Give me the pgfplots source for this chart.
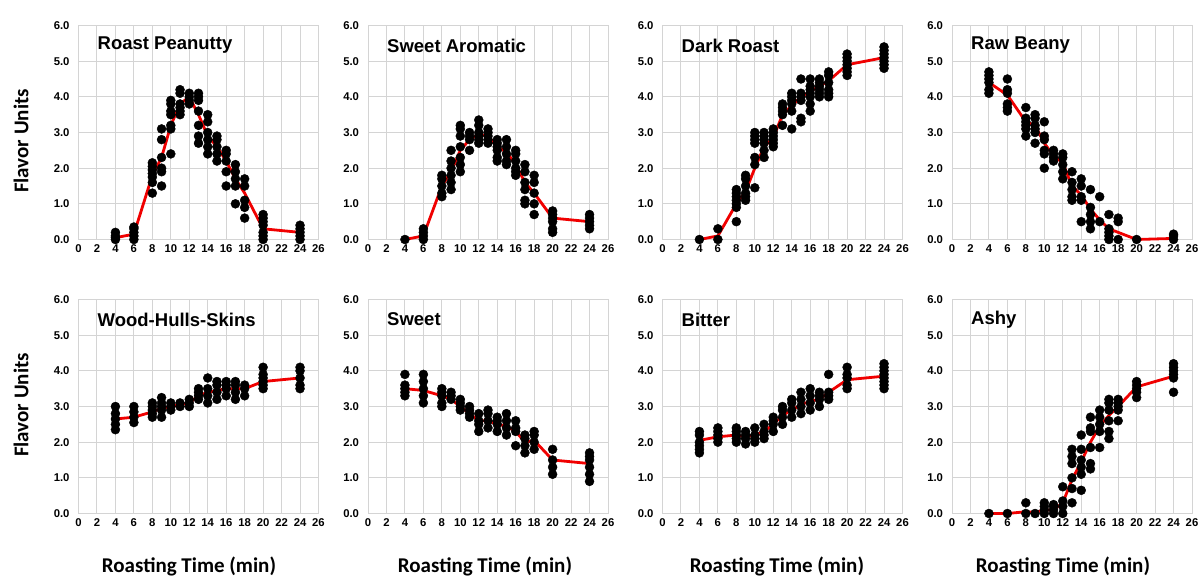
\documentclass[border=0pt]{standalone}
\usepackage{fontspec}
\setmainfont{Liberation Sans}
\newfontfamily\lblfont{Carlito}
\usepackage{pgfplots}
\pgfplotsset{compat=1.18}
\definecolor{gridgray}{HTML}{D4D4D4}
\definecolor{meanred}{HTML}{F00000}
\pgfplotsset{
  panel/.style={
    scale only axis, width=240pt, height=214pt,
    anchor=south west,
    xmin=0, xmax=26, ymin=0, ymax=6,
    xtick={0,2,...,26}, ytick={0,1,...,6},
    grid=major,
    major grid style={draw=gridgray, line width=1pt},
    axis line style={draw=gridgray, line width=1pt},
    major tick length=0pt,
    clip=false,
    /pgf/number format/assume math mode=true,
    tick label style={font=\fontsize{11.3}{13}\selectfont\bfseries},
    xticklabel style={yshift=-1.5pt},
    yticklabel style={xshift=-5.5pt,
      /pgf/number format/fixed,
      /pgf/number format/fixed zerofill,
      /pgf/number format/precision=1},
  },
  dots/.style={only marks, mark=*, mark size=4.5pt, color=black, mark options={fill=black, draw=black}},
  meanline/.style={color=meanred, line width=2.8pt, mark=none},
}
\newcommand{\paneltitle}[1]{\node[anchor=west, xshift=19pt, yshift=-20pt, font=\fontsize{18.5}{20}\selectfont\bfseries, inner sep=0pt] at (rel axis cs:0,1) {#1};}
\begin{document}
\begin{tikzpicture}
\useasboundingbox (0,0) rectangle (1200pt,576pt);

% ---------- Row 1 ----------
\begin{axis}[panel, at={(78.5pt,336.5pt)}]
\addplot[meanline] coordinates {(4,0.05)(6,0.15)(8,1.8)(9,2.3)(10,3.2)(11,3.8)(12,4.0)(13,3.5)(14,2.9)(15,2.6)(16,2.2)(17,1.7)(18,1.3)(20,0.3)(24,0.2)};
\addplot[dots] coordinates {
(4,0.0)(4,0.05)(4,0.1)(4,0.2)
(6,0.0)(6,0.1)(6,0.2)(6,0.3)(6,0.35)
(8,1.3)(8,1.6)(8,1.75)(8,1.85)(8,1.95)(8,2.05)(8,2.15)
(9,1.5)(9,1.9)(9,2.0)(9,2.3)(9,2.8)(9,3.1)
(10,2.4)(10,3.1)(10,3.2)(10,3.5)(10,3.6)(10,3.8)(10,3.9)
(11,3.5)(11,3.6)(11,3.7)(11,3.8)(11,4.1)(11,4.2)
(12,3.8)(12,3.9)(12,4.0)(12,4.1)
(13,2.7)(13,2.9)(13,3.2)(13,3.6)(13,3.9)(13,4.0)(13,4.1)
(14,2.4)(14,2.6)(14,2.8)(14,3.0)(14,3.3)(14,3.5)
(15,2.2)(15,2.4)(15,2.6)(15,2.8)(15,2.9)
(16,1.5)(16,1.9)(16,2.2)(16,2.4)(16,2.5)
(17,1.0)(17,1.5)(17,1.7)(17,1.9)(17,2.1)
(18,0.6)(18,0.9)(18,1.1)(18,1.5)(18,1.7)
(20,0.0)(20,0.1)(20,0.2)(20,0.4)(20,0.5)(20,0.6)(20,0.7)
(24,0.0)(24,0.1)(24,0.2)(24,0.3)(24,0.4)};
\paneltitle{Roast Peanutty}
\end{axis}

\begin{axis}[panel, at={(368pt,336.5pt)}]
\addplot[meanline] coordinates {(4,0)(6,0.1)(8,1.5)(9,1.9)(10,2.5)(11,2.8)(12,2.95)(13,2.9)(14,2.6)(15,2.45)(16,2.1)(17,1.6)(18,1.3)(20,0.6)(24,0.5)};
\addplot[dots] coordinates {
(4,0.0)
(6,0.0)(6,0.1)(6,0.2)(6,0.3)
(8,1.2)(8,1.3)(8,1.5)(8,1.7)(8,1.8)
(9,1.4)(9,1.6)(9,1.8)(9,2.0)(9,2.2)(9,2.5)
(10,1.9)(10,2.1)(10,2.3)(10,2.6)(10,2.9)(10,3.1)(10,3.2)
(11,2.5)(11,2.8)(11,2.9)(11,3.0)
(12,2.7)(12,2.8)(12,2.9)(12,3.0)(12,3.2)(12,3.35)
(13,2.7)(13,2.8)(13,2.9)(13,3.0)(13,3.1)
(14,2.2)(14,2.3)(14,2.5)(14,2.6)(14,2.7)(14,2.8)
(15,2.1)(15,2.2)(15,2.4)(15,2.6)(15,2.8)
(16,1.8)(16,1.9)(16,2.0)(16,2.2)(16,2.4)(16,2.5)
(17,1.0)(17,1.1)(17,1.4)(17,1.6)(17,1.9)(17,2.1)
(18,0.7)(18,1.0)(18,1.3)(18,1.6)(18,1.8)
(20,0.2)(20,0.3)(20,0.5)(20,0.6)(20,0.7)(20,0.8)
(24,0.3)(24,0.4)(24,0.5)(24,0.6)(24,0.7)};
\paneltitle{Sweet Aromatic}
\end{axis}

\begin{axis}[panel, at={(662.5pt,336.5pt)}]
\addplot[meanline] coordinates {(4,0)(6,0.1)(8,1.0)(9,1.35)(10,2.0)(11,2.6)(12,2.85)(13,3.5)(14,3.75)(15,4.0)(16,4.15)(17,4.3)(18,4.45)(20,4.9)(24,5.1)};
\addplot[dots] coordinates {
(4,0.0)
(6,0.0)(6,0.3)
(8,0.5)(8,0.9)(8,1.0)(8,1.1)(8,1.2)(8,1.3)(8,1.4)
(9,1.1)(9,1.2)(9,1.3)(9,1.5)(9,1.7)(9,1.8)
(10,1.45)(10,2.1)(10,2.3)(10,2.7)(10,2.8)(10,2.9)(10,3.0)
(11,2.3)(11,2.5)(11,2.7)(11,2.8)(11,2.9)(11,3.0)
(12,2.6)(12,2.7)(12,2.8)(12,2.9)(12,3.0)(12,3.1)
(13,3.2)(13,3.5)(13,3.6)(13,3.7)(13,3.8)
(14,3.1)(14,3.6)(14,3.8)(14,3.9)(14,4.0)(14,4.1)
(15,3.3)(15,3.4)(15,3.9)(15,4.0)(15,4.1)(15,4.5)
(16,3.6)(16,3.8)(16,4.0)(16,4.1)(16,4.2)(16,4.3)(16,4.5)
(17,4.0)(17,4.1)(17,4.2)(17,4.3)(17,4.4)(17,4.5)
(18,4.0)(18,4.1)(18,4.2)(18,4.4)(18,4.6)(18,4.7)
(20,4.6)(20,4.7)(20,4.8)(20,4.9)(20,5.0)(20,5.1)(20,5.2)
(24,4.8)(24,4.9)(24,5.0)(24,5.1)(24,5.2)(24,5.3)(24,5.4)};
\paneltitle{Dark Roast}
\end{axis}

\begin{axis}[panel, at={(952pt,336.5pt)}]
\addplot[meanline] coordinates {(4,4.4)(6,4.05)(8,3.3)(9,3.2)(10,2.7)(11,2.35)(12,2.15)(13,1.5)(14,1.25)(15,0.85)(16,0.55)(17,0.3)(18,0.2)(20,0.0)(24,0.03)};
\addplot[dots] coordinates {
(4,4.1)(4,4.2)(4,4.4)(4,4.5)(4,4.6)(4,4.7)
(6,3.6)(6,3.7)(6,3.8)(6,4.1)(6,4.2)(6,4.5)
(8,2.9)(8,3.1)(8,3.2)(8,3.3)(8,3.4)(8,3.7)
(9,2.7)(9,3.0)(9,3.1)(9,3.2)(9,3.4)(9,3.5)
(10,2.0)(10,2.4)(10,2.5)(10,2.8)(10,2.9)(10,3.3)
(11,2.2)(11,2.3)(11,2.4)(11,2.5)
(12,1.7)(12,1.9)(12,2.1)(12,2.3)(12,2.4)
(13,1.1)(13,1.2)(13,1.4)(13,1.6)(13,1.9)
(14,0.5)(14,1.1)(14,1.2)(14,1.5)(14,1.7)
(15,0.3)(15,0.5)(15,0.7)(15,0.9)(15,1.4)
(16,0.5)(16,1.2)
(17,0.0)(17,0.1)(17,0.2)(17,0.3)(17,0.7)
(18,0.0)(18,0.5)(18,0.6)
(20,0.0)
(24,0.0)(24,0.1)(24,0.15)};
\paneltitle{Raw Beany}
\end{axis}

% ---------- Row 2 ----------
\begin{axis}[panel, at={(78.5pt,62.5pt)}]
\addplot[meanline] coordinates {(4,2.65)(6,2.7)(8,2.85)(9,2.95)(10,3.0)(11,3.05)(12,3.1)(13,3.3)(14,3.4)(15,3.45)(16,3.5)(17,3.5)(18,3.5)(20,3.7)(24,3.8)};
\addplot[dots] coordinates {
(4,2.35)(4,2.5)(4,2.65)(4,2.8)(4,3.0)
(6,2.55)(6,2.7)(6,2.85)(6,3.0)
(8,2.7)(8,2.8)(8,2.9)(8,3.0)(8,3.1)
(9,2.7)(9,2.9)(9,3.0)(9,3.1)(9,3.25)
(10,2.9)(10,3.0)(10,3.1)
(11,3.0)(11,3.1)
(12,3.0)(12,3.1)(12,3.2)
(13,3.2)(13,3.3)(13,3.4)(13,3.5)
(14,3.1)(14,3.3)(14,3.5)(14,3.8)
(15,3.2)(15,3.4)(15,3.6)(15,3.7)
(16,3.3)(16,3.5)(16,3.6)(16,3.7)
(17,3.2)(17,3.4)(17,3.6)(17,3.7)
(18,3.3)(18,3.5)(18,3.6)
(20,3.5)(20,3.6)(20,3.7)(20,3.8)(20,3.9)(20,4.1)
(24,3.5)(24,3.6)(24,3.8)(24,4.0)(24,4.1)};
\paneltitle{Wood-Hulls-Skins}
\end{axis}

\begin{axis}[panel, at={(368pt,62.5pt)}]
\addplot[meanline] coordinates {(4,3.5)(6,3.45)(8,3.3)(9,3.2)(10,3.0)(11,2.8)(12,2.6)(13,2.6)(14,2.5)(15,2.45)(16,2.3)(17,2.0)(18,2.05)(20,1.5)(24,1.4)};
\addplot[dots] coordinates {
(4,3.3)(4,3.4)(4,3.5)(4,3.6)(4,3.9)
(6,3.1)(6,3.3)(6,3.5)(6,3.7)(6,3.9)
(8,3.0)(8,3.1)(8,3.3)(8,3.4)(8,3.5)
(9,3.2)(9,3.3)(9,3.4)
(10,2.9)(10,3.0)(10,3.1)(10,3.2)
(11,2.7)(11,2.8)(11,2.9)(11,3.0)
(12,2.3)(12,2.5)(12,2.6)(12,2.8)
(13,2.4)(13,2.6)(13,2.8)(13,2.9)
(14,2.3)(14,2.5)(14,2.6)(14,2.7)
(15,2.2)(15,2.4)(15,2.6)(15,2.8)
(16,1.9)(16,2.3)(16,2.4)(16,2.6)
(17,1.7)(17,1.9)(17,2.1)(17,2.2)
(18,1.8)(18,2.0)(18,2.2)(18,2.3)
(20,1.1)(20,1.3)(20,1.5)(20,1.8)
(24,0.9)(24,1.1)(24,1.3)(24,1.5)(24,1.6)(24,1.7)};
\paneltitle{Sweet}
\end{axis}

\begin{axis}[panel, at={(662.5pt,62.5pt)}]
\addplot[meanline] coordinates {(4,2.05)(6,2.15)(8,2.2)(9,2.15)(10,2.2)(11,2.3)(12,2.5)(13,2.75)(14,2.9)(15,3.05)(16,3.15)(17,3.2)(18,3.4)(20,3.75)(24,3.85)};
\addplot[dots] coordinates {
(4,1.7)(4,1.8)(4,1.9)(4,2.0)(4,2.2)(4,2.3)
(6,2.0)(6,2.1)(6,2.2)(6,2.3)(6,2.4)
(8,2.0)(8,2.1)(8,2.2)(8,2.3)(8,2.4)
(9,1.95)(9,2.1)(9,2.2)(9,2.3)
(10,2.0)(10,2.1)(10,2.2)(10,2.4)
(11,2.1)(11,2.2)(11,2.3)(11,2.5)
(12,2.3)(12,2.5)(12,2.6)(12,2.7)
(13,2.5)(13,2.7)(13,2.9)(13,3.0)
(14,2.7)(14,2.9)(14,3.1)(14,3.2)
(15,2.8)(15,3.0)(15,3.2)(15,3.4)
(16,2.9)(16,3.1)(16,3.3)(16,3.5)
(17,3.0)(17,3.2)(17,3.3)(17,3.4)
(18,3.2)(18,3.3)(18,3.4)(18,3.9)
(20,3.5)(20,3.6)(20,3.8)(20,3.9)(20,4.1)
(24,3.5)(24,3.6)(24,3.7)(24,3.8)(24,3.9)(24,4.0)(24,4.1)(24,4.2)};
\paneltitle{Bitter}
\end{axis}

\begin{axis}[panel, at={(952pt,62.5pt)}]
\addplot[meanline] coordinates {(4,0)(6,0)(8,0.05)(9,0.03)(10,0.1)(11,0.1)(12,0.3)(13,0.95)(14,1.45)(15,2.0)(16,2.45)(17,2.75)(18,3.0)(20,3.55)(24,3.85)};
\addplot[dots] coordinates {
(4,0.0)
(6,0.0)
(8,0.0)(8,0.3)
(9,0.0)
(10,0.0)(10,0.1)(10,0.2)(10,0.3)
(11,0.0)(11,0.1)(11,0.2)(11,0.25)
(12,0.0)(12,0.2)(12,0.35)(12,0.75)
(13,0.3)(13,0.7)(13,1.0)(13,1.4)(13,1.6)(13,1.8)
(14,0.65)(14,1.1)(14,1.3)(14,1.5)(14,1.8)(14,2.2)
(15,1.25)(15,1.4)(15,1.85)(15,2.3)(15,2.4)(15,2.7)
(16,1.85)(16,2.3)(16,2.5)(16,2.7)(16,2.9)
(17,2.1)(17,2.3)(17,2.6)(17,2.9)(17,3.1)(17,3.2)
(18,2.6)(18,2.9)(18,3.0)(18,3.1)(18,3.2)
(20,3.25)(20,3.4)(20,3.5)(20,3.6)(20,3.7)
(24,3.4)(24,3.8)(24,3.9)(24,4.0)(24,4.1)(24,4.2)};
\paneltitle{Ashy}
\end{axis}

% ---------- axis labels ----------
\node[rotate=90, font=\lblfont\fontsize{21}{24}\selectfont\bfseries] at (21pt,435pt) {Flavor Units};
\node[rotate=90, font=\lblfont\fontsize{21}{24}\selectfont\bfseries] at (21pt,171pt) {Flavor Units};
\node[font=\lblfont\fontsize{21}{24}\selectfont\bfseries] at (189pt,10pt) {Roasting Time (min)};
\node[font=\lblfont\fontsize{21}{24}\selectfont\bfseries] at (485pt,10pt) {Roasting Time (min)};
\node[font=\lblfont\fontsize{21}{24}\selectfont\bfseries] at (777pt,10pt) {Roasting Time (min)};
\node[font=\lblfont\fontsize{21}{24}\selectfont\bfseries] at (1063pt,10pt) {Roasting Time (min)};
\end{tikzpicture}
\end{document}
